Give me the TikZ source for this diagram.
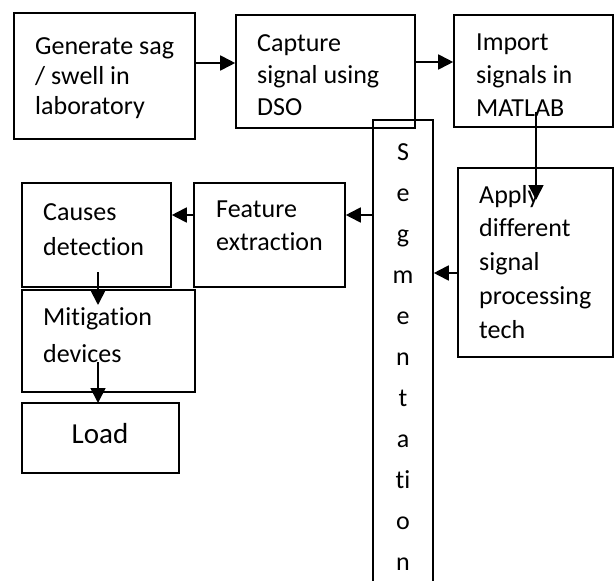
\documentclass[tikz,border=0pt]{standalone}
\usepackage{fontspec}
\setmainfont[Ligatures=NoCommon]{Carlito}
\usetikzlibrary{arrows.meta}
\begin{document}
\begin{tikzpicture}[x=1pt,y=-1pt,
  box/.style={draw,line width=1.6pt,inner sep=0,minimum width=#1},
  txt/.style={anchor=base west,align=left,inner sep=0},
  arr/.style={line width=1.8pt,-{Triangle[length=15pt,width=15pt]}}]
\useasboundingbox (0,0) rectangle (614,581);
% boxes
\node[box=181pt,minimum height=126pt] (b1) at (104.5,76) {};
\node[box=179pt,minimum height=113pt] (b2) at (325.5,71.5) {};
\node[box=159pt,minimum height=112pt] (b3) at (533.5,71) {};
\node[box=155pt,minimum height=189pt] (ap) at (535.5,262.5) {};
\node[box=60pt,minimum height=500pt] (seg) at (403,370) {};
\node[box=151pt,minimum height=104pt] (fe) at (269.5,235) {};
\node[box=149pt,minimum height=104pt] (ca) at (96.5,235) {};
\node[box=173pt,minimum height=102pt] (mi) at (108.5,341) {};
\node[box=157pt,minimum height=70pt] (lo) at (100.5,438) {};
% texts (anchor = baseline of the last line)
\node[txt,font=\fontsize{26}{30}\selectfont] (t1) at (35,114) {Generate sag\\/ swell in\\laboratory};
\node[txt,font=\fontsize{26}{32}\selectfont] (t2) at (257,115.5) {Capture\\signal using\\DSO};
\node[txt,font=\fontsize{26}{33}\selectfont] (t3) at (476,116) {Import\\signals in\\MATLAB};
\node[txt,font=\fontsize{26}{33.7}\selectfont] (t4) at (479,338) {Apply\\different\\signal\\processing\\tech};
\node[txt,font=\fontsize{26}{33}\selectfont] (t5) at (216,250) {Feature\\extraction};
\node[txt,font=\fontsize{26}{35}\selectfont] (t6) at (43,255) {Causes\\detection};
\node[txt,font=\fontsize{26}{37}\selectfont] (t7) at (43,362) {Mitigation\\devices};
\node[anchor=base,inner sep=0,font=\fontsize{29}{35}\selectfont] (t8) at (100,443) {Load};
\node[anchor=base,align=center,inner sep=0,font=\fontsize{26}{41}\selectfont] (t9) at (403,570) {S\\e\\g\\m\\e\\n\\t\\a\\ti\\o\\n};
% connector end points
\coordinate (i1) at (536,112);
\coordinate (i2) at (536,200);
\coordinate (c1) at (98,272);
\coordinate (c2) at (98,305);
\coordinate (m1) at (98,362);
\coordinate (m2) at (98,403);
% arrows
\draw[arr] (b1.east |- 0,63) -- (b2.west |- 0,63);
\draw[arr] (b2.east |- 0,62) -- (b3.west |- 0,62);
\draw[arr] (i1) -- (i2);
\draw[arr] (ap.west |- 0,273) -- (seg.east |- 0,273);
\draw[arr] (seg.west |- 0,215) -- (fe.east |- 0,215);
\draw[arr] (fe.west |- 0,215) -- (ca.east |- 0,215);
\draw[arr] (c1) -- (c2);
\draw[arr] (m1) -- (m2);
\end{tikzpicture}
\end{document}
